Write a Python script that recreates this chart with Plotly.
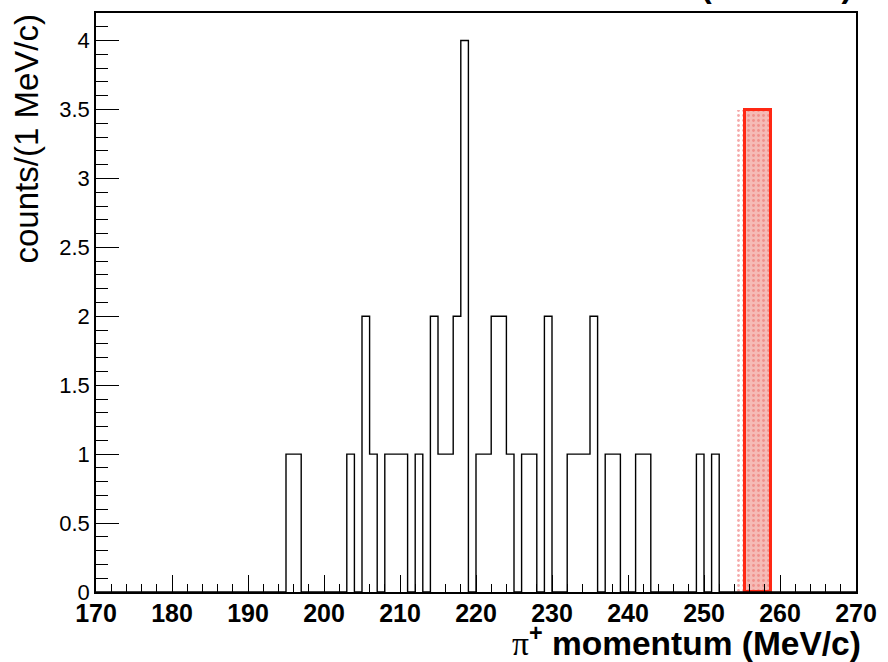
import plotly.graph_objects as go

# Histogram: 1 MeV/c bins from 170 to 270 (bin low edges with non-zero counts)
bin_low = [195, 196, 203, 205, 206, 208, 209, 210, 212, 214, 215, 216, 217, 218,
           220, 221, 222, 223, 224, 226, 227, 229, 232, 233, 234, 235, 237, 238,
           241, 242, 249, 251]
bin_cnt = [1, 1, 1, 2, 1, 1, 1, 1, 1, 2, 1, 1, 2, 4,
           1, 1, 2, 2, 1, 1, 1, 2, 1, 1, 1, 2, 1, 1,
           1, 1, 1, 1]
x_min, x_max, bin_w = 170, 270, 1

# Signal region box
sig_lo, sig_hi, sig_h = 255.4, 258.8, 3.5
dots_lo = 254.4

# full histogram
nb = int((x_max - x_min) / bin_w)
counts = [0] * nb
for b, c in zip(bin_low, bin_cnt):
    counts[int((b - x_min) / bin_w)] = c
edges = [x_min + i * bin_w for i in range(nb + 1)]
ys = counts + [counts[-1]]

fig = go.Figure()
fig.add_trace(go.Bar(
    x=[(dots_lo + sig_hi) / 2], y=[sig_h], width=[sig_hi - dots_lo],
    marker=dict(color="rgba(0,0,0,0)", line=dict(width=0),
                pattern=dict(shape=".", fgcolor="rgba(230,40,40,0.8)", bgcolor="rgba(255,255,255,0)",
                             size=5, solidity=0.25)),
    showlegend=False, hoverinfo="skip"))
fig.add_trace(go.Bar(
    x=[(sig_lo + sig_hi) / 2], y=[sig_h], width=[sig_hi - sig_lo],
    marker=dict(color="rgba(235,120,110,0.5)", line=dict(width=3, color="rgb(255,40,20)")),
    showlegend=False, hoverinfo="skip"))
fig.add_trace(go.Scatter(
    x=edges, y=ys, mode="lines", line=dict(shape="hv", color="black", width=1.4),
    showlegend=False, hoverinfo="skip"))

fig.update_layout(
    width=888, height=662,
    margin=dict(l=96, r=24, t=11, b=70),
    paper_bgcolor="white", plot_bgcolor="white",
    barmode="overlay", bargap=0,
    font=dict(family="Liberation Sans, Arial", color="black"),
    xaxis=dict(range=[x_min, x_max], showgrid=False, zeroline=False,
               showline=True, linecolor="black", linewidth=1.5, mirror=True,
               ticks="inside", ticklen=17, tickwidth=1.2, tickcolor="black",
               dtick=10, tick0=170, ticklabelstandoff=-2,
               minor=dict(ticks="inside", ticklen=8, dtick=2, tickcolor="black", tickwidth=1),
               tickfont=dict(family="Liberation Sans, Arial", size=25, weight="bold", color="black")),
    yaxis=dict(range=[0, 4.2], showgrid=False, zeroline=False,
               showline=True, linecolor="black", linewidth=1.5, mirror=True,
               ticks="inside", ticklen=23, tickwidth=1.2, tickcolor="black",
               dtick=0.5, tick0=0,
               minor=dict(ticks="inside", ticklen=12, dtick=0.1, tickcolor="black", tickwidth=1),
               tickfont=dict(family="Liberation Sans, Arial", size=22, color="black")),
)

fig.add_annotation(
    xref="paper", yref="paper", x=1, y=0, xanchor="right", yanchor="middle",
    xshift=7, yshift=-49, showarrow=False,
    text="<span style='font-family:Liberation Serif;font-weight:normal'>π</span><b><sup>+</sup> momentum (MeV/c)</b>",
    font=dict(family="Liberation Sans, Arial", size=33.5, color="black"))
fig.add_annotation(
    xref="paper", yref="paper", x=0, y=1, xanchor="center", yanchor="top",
    xshift=-70, yshift=0, showarrow=False, textangle=-90,
    text="counts/(1 MeV/c)",
    font=dict(family="Liberation Sans, Arial", size=33, color="black"))
fig.add_annotation(
    xref="paper", yref="paper", x=1, y=1, xanchor="right", yanchor="bottom",
    xshift=-2, yshift=7, showarrow=False,
    text="<b>(E949 set)</b>",
    font=dict(family="Liberation Sans, Arial", size=32, color="black"))

fig.write_html("out.html")
